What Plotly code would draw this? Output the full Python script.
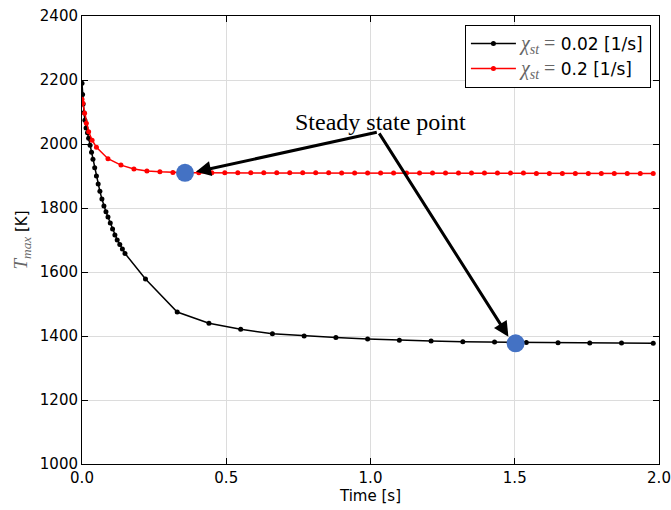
import plotly.graph_objects as go

# ---- data ----
black_t = [0.000, 0.002, 0.004, 0.007, 0.010, 0.014, 0.019, 0.023, 0.028, 0.033,
           0.038, 0.044, 0.050, 0.056, 0.062, 0.069, 0.076, 0.083, 0.090, 0.098,
           0.106, 0.114, 0.122, 0.131, 0.140, 0.149,
           0.22, 0.33, 0.44, 0.55, 0.66, 0.77, 0.88, 0.99, 1.10, 1.21, 1.32,
           1.43, 1.54, 1.65, 1.76, 1.87, 1.98]
black_T = [2190, 2155, 2125, 2098, 2074, 2050, 2035, 2018, 1996, 1974,
           1952, 1926, 1900, 1875, 1852, 1828, 1806, 1788, 1772, 1753,
           1734, 1716, 1700, 1686, 1672, 1658,
           1578, 1475, 1440, 1421, 1407, 1400, 1395, 1391, 1387, 1384, 1382,
           1381, 1380, 1379, 1378, 1378, 1377]

red_t = [0.000, 0.003, 0.009, 0.015, 0.023, 0.035, 0.050, 0.090, 0.135, 0.180,
         0.225, 0.270, 0.315, 0.360, 0.405, 0.450, 0.495, 0.540, 0.585, 0.630,
         0.675, 0.720, 0.765, 0.810, 0.855, 0.900, 0.945, 0.990, 1.035, 1.080,
         1.125, 1.170, 1.215, 1.260, 1.305, 1.350, 1.395, 1.440, 1.485, 1.530,
         1.575, 1.620, 1.665, 1.710, 1.755, 1.800, 1.845, 1.890, 1.935, 1.980]
red_T = [2140, 2127, 2096, 2065, 2038, 2012, 1990, 1954, 1934, 1922,
         1916, 1913, 1911, 1910, 1910, 1910, 1910, 1910, 1910, 1910,
         1910, 1910, 1910, 1910, 1910, 1909, 1909, 1909, 1909, 1909,
         1909, 1909, 1909, 1909, 1909, 1909, 1909, 1909, 1909, 1909,
         1908, 1908, 1908, 1908, 1908, 1908, 1908, 1908, 1908, 1908]

steady_t = [0.357, 1.503]
steady_T = [1910, 1377]

arrow_origin = (1.027, 2038)
arrow_tips_t = [0.395, 1.478]
arrow_tips_T = [1913, 1398]

label_text = "Steady state point"
label_pos = (1.036, 2069)

x_ticks = [0.0, 0.5, 1.0, 1.5, 2.0]
y_ticks = [1000, 1200, 1400, 1600, 1800, 2000, 2200, 2400]

grey = "#666666"
sym = ("<span style='font-family:Liberation Serif;font-size:20px;color:%s'>"
       "<i>χ</i><sub><i>st</i></sub> =</span>" % grey)
leg_black = sym + " 0.02 [1/s]"
leg_red = sym + " 0.2 [1/s]"

fig = go.Figure()
fig.add_trace(go.Scatter(x=black_t, y=black_T, mode="lines+markers", name=leg_black,
                         line=dict(color="black", width=1.5),
                         marker=dict(color="black", size=5)))
fig.add_trace(go.Scatter(x=red_t, y=red_T, mode="lines+markers", name=leg_red,
                         line=dict(color="red", width=1.5),
                         marker=dict(color="red", size=5)))
fig.add_trace(go.Scatter(x=steady_t, y=steady_T, mode="markers", showlegend=False,
                         marker=dict(color="#4472C4", size=18)))

annotations = []
for tx, ty in zip(arrow_tips_t, arrow_tips_T):
    annotations.append(dict(x=tx, y=ty, ax=arrow_origin[0], ay=arrow_origin[1],
                            xref="x", yref="y", axref="x", ayref="y", text="",
                            showarrow=True, arrowhead=2, arrowsize=1, arrowwidth=3,
                            arrowcolor="black", standoff=0))
annotations.append(dict(x=label_pos[0], y=label_pos[1], xref="x", yref="y",
                        text=label_text, showarrow=False,
                        font=dict(family="Liberation Serif", size=24, color="black")))

axis_common = dict(showline=True, linecolor="black", linewidth=1, mirror="ticks",
                   ticks="inside", ticklen=6, tickcolor="black", automargin=False,
                   showgrid=True, gridcolor="#dcdcdc", gridwidth=1, zeroline=False,
                   tickfont=dict(family="DejaVu Sans", size=15, color="black"))

fig.update_layout(
    width=671, height=510,
    margin=dict(l=82, r=12, t=16, b=46, autoexpand=False),
    paper_bgcolor="white", plot_bgcolor="white",
    xaxis=dict(range=[0, 2], tickvals=x_ticks, ticktext=["%.1f" % v for v in x_ticks],
               title=dict(text="Time [s]", font=dict(family="DejaVu Sans", size=15, color="black"),
                          standoff=4),
               **axis_common),
    yaxis=dict(range=[1000, 2400], tickvals=y_ticks,
               title=dict(text="<span style='font-family:Liberation Serif;font-size:19px;color:%s'><i>T</i><sub><i>max</i></sub></span> [K]" % grey,
                          font=dict(family="DejaVu Sans", size=15, color="black"),
                          standoff=8),
               **axis_common),
    legend=dict(x=0.986, y=0.98, xanchor="right", yanchor="top",
                bgcolor="white", bordercolor="black", borderwidth=1,
                font=dict(family="DejaVu Sans", size=17, color="black"),
                itemwidth=45, tracegroupgap=0),
    annotations=annotations,
    showlegend=True,
)

fig.write_html("out.html")
